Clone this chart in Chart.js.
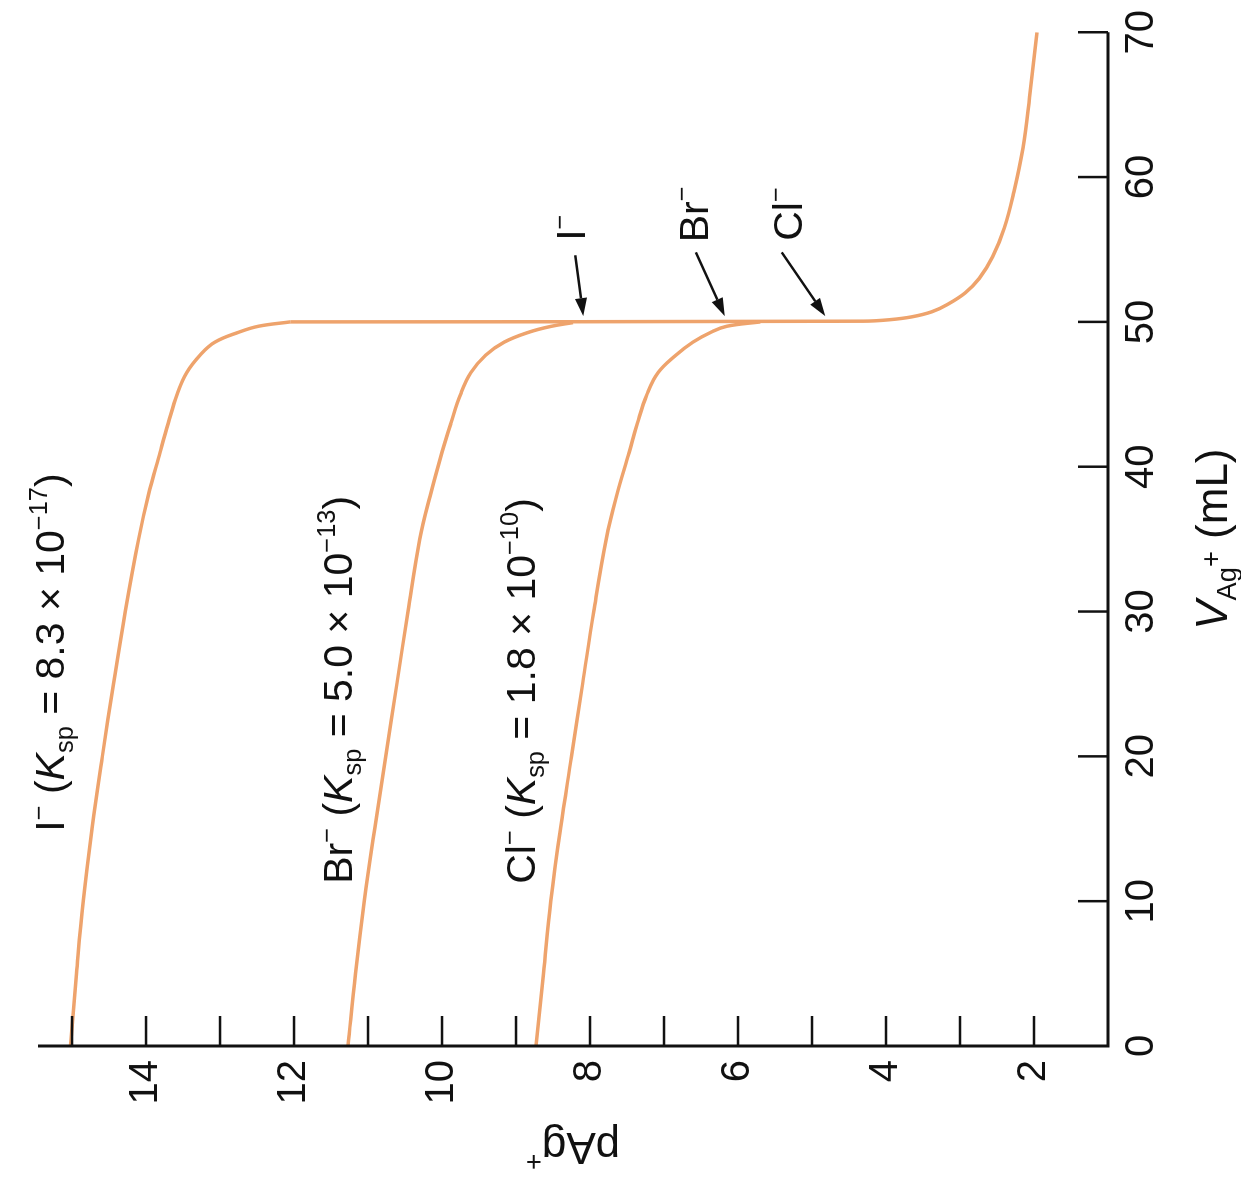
<!DOCTYPE html>
<html>
<head>
<meta charset="utf-8">
<title>Titration curves: pAg+ vs V Ag+</title>
<script src="https://cdn.jsdelivr.net/npm/chart.js"></script>
<style>
  html, body { margin: 0; padding: 0; background: #fff; overflow: hidden; }
  /* the figure is printed turned a quarter turn, so the chart is drawn upright and rotated */
  #wrap { position: absolute; left: 0; top: 0; width: 1194px; height: 1241px;
          transform-origin: 0 0; transform: translate(0, 1194px) rotate(-90deg); }
</style>
</head>
<body>
<div id="wrap"><canvas id="chart" width="1194" height="1241"></canvas></div>
<script>
// values: volume of Ag+ added (mL) and pAg+
var volI  = [0, 5, 10, 15, 20, 25, 30, 35, 38, 41, 43, 45, 46.5, 47.7, 48.6, 49.3, 49.7, 50.0];
var pAgI  = [15.02, 14.94, 14.85, 14.73, 14.59, 14.44, 14.28, 14.10, 13.97, 13.81, 13.70, 13.58, 13.45, 13.27, 13.07, 12.74, 12.48, 12.05];
var volBr = [0, 5, 10, 15, 20, 25, 30, 35, 38, 41, 43, 45, 46.5, 47.7, 48.6, 49.3, 49.7, 49.95];
var pAgBr = [11.27, 11.17, 11.05, 10.91, 10.76, 10.61, 10.46, 10.30, 10.16, 10.00, 9.88, 9.75, 9.61, 9.41, 9.16, 8.82, 8.52, 8.23];
var volCl = [0, 5, 10, 15, 20, 25, 30, 35, 38, 41, 43, 45, 46.5, 47.7, 48.6, 49.3, 49.7, 50.0];
var pAgCl = [8.73, 8.63, 8.53, 8.40, 8.25, 8.10, 7.95, 7.78, 7.64, 7.47, 7.36, 7.23, 7.08, 6.84, 6.61, 6.36, 6.15, 5.70];
// past the equivalence point all three curves share the excess Ag+ branch
var volAg = [50.0, 50.05, 50.15, 50.35, 50.7, 51.2, 52.0, 53.0, 54.5, 56.5, 59.0, 62.0, 65.5, 70.0];
var pAgAg = [12.05, 4.30, 3.95, 3.65, 3.38, 3.17, 2.93, 2.74, 2.56, 2.40, 2.27, 2.15, 2.06, 1.96];

var volTicks  = [0, 10, 20, 30, 40, 50, 60, 70];
var pAgTicks  = [2, 3, 4, 5, 6, 7, 8, 9, 10, 11, 12, 13, 14, 15];
var pAgLabels = [2, 4, 6, 8, 10, 12, 14];

var ions = ['I', 'Br', 'Cl'];
var kspText = ['8.3', '5.0', '1.8'];
var kspExp = ['−17', '−13', '−10'];

// annotation anchors in data units [V, pAg]
var curveLabelAt = [[14.8, 15.11], [11.2, 11.22], [11.2, 8.74]];
var ionLabelAt   = [[55.6, 8.07], [55.5, 6.41], [55.6, 5.14]];
var arrowTail    = [[54.6, 8.20], [54.8, 6.57], [54.8, 5.41]];
var arrowTip     = [[50.4, 8.09], [50.4, 6.18], [50.4, 4.82]];

var ORANGE = '#eea36c';
var INK = '#111111';
var FONT = '"Liberation Sans", Arial, Helvetica, sans-serif';

Chart.defaults.font.family = FONT;

function toPts(xs, ys) {
  return xs.map(function (v, i) { return { x: v, y: ys[i] }; });
}

function curve(label, xs, ys) {
  return {
    label: label,
    data: toPts(xs, ys),
    borderColor: ORANGE,
    borderWidth: 3.5,
    pointRadius: 0,
    fill: false,
    tension: 0.4
  };
}

function sup(t) { return { t: t, small: true, dy: -0.42 }; }
function sub(t) { return { t: t, small: true, dy: 0.22 }; }

// text with sub/superscripts, drawn piece by piece
function rich(ctx, parts, x, y, size, align) {
  var segs = parts.map(function (p) {
    var s = p.small ? size * 0.62 : size;
    var f = (p.it ? 'italic ' : '') + s + 'px ' + FONT;
    ctx.font = f;
    return { t: p.t, f: f, w: ctx.measureText(p.t).width, dy: (p.dy || 0) * size };
  });
  var total = segs.reduce(function (a, s) { return a + s.w; }, 0);
  var cx = align === 'center' ? x - total / 2 : x;
  ctx.textAlign = 'left';
  ctx.textBaseline = 'alphabetic';
  segs.forEach(function (s) {
    ctx.font = s.f;
    ctx.fillText(s.t, cx, y + s.dy);
    cx += s.w;
  });
}

function arrow(ctx, x1, y1, x2, y2) {
  var ang = Math.atan2(y2 - y1, x2 - x1), L = 18, W = 6;
  var bx = x2 - L * Math.cos(ang), by = y2 - L * Math.sin(ang);
  ctx.lineWidth = 2.5;
  ctx.beginPath();
  ctx.moveTo(x1, y1);
  ctx.lineTo(bx, by);
  ctx.stroke();
  ctx.beginPath();
  ctx.moveTo(x2, y2);
  ctx.lineTo(bx - W * Math.sin(ang), by + W * Math.cos(ang));
  ctx.lineTo(bx + W * Math.sin(ang), by - W * Math.cos(ang));
  ctx.closePath();
  ctx.fill();
}

var decor = {
  id: 'decor',
  afterDraw: function (chart) {
    var ctx = chart.ctx, a = chart.chartArea;
    var x = chart.scales.x, y = chart.scales.y;
    ctx.save();
    ctx.strokeStyle = INK;
    ctx.fillStyle = INK;

    // axis lines
    ctx.lineWidth = 3;
    ctx.lineJoin = 'miter';
    ctx.beginPath();
    ctx.moveTo(a.left, a.top);
    ctx.lineTo(a.left, a.bottom);
    ctx.lineTo(a.right, a.bottom);
    ctx.stroke();

    // inward tick marks
    ctx.lineWidth = 2.5;
    y.ticks.forEach(function (t) {
      var py = y.getPixelForValue(t.value);
      ctx.beginPath(); ctx.moveTo(a.left, py); ctx.lineTo(a.left + 30, py); ctx.stroke();
    });
    x.ticks.forEach(function (t) {
      if (t.value === 0) return;
      var px = x.getPixelForValue(t.value);
      ctx.beginPath(); ctx.moveTo(px, a.bottom); ctx.lineTo(px, a.bottom - 30); ctx.stroke();
    });

    // axis titles
    rich(ctx, [{ t: 'V', it: true }, { t: 'Ag', small: true, dy: 0.2 }, { t: '+', small: true, dy: -0.16 }, { t: ' (mL)' }],
      (a.left + a.right) / 2, a.bottom + 119, 44, 'center');
    ctx.save();
    ctx.translate(a.left - 87, (a.top + a.bottom) / 2);
    ctx.rotate(-Math.PI / 2);
    rich(ctx, [{ t: 'pAg' }, { t: '+', small: true, dy: -0.45 }], 0, 0, 44, 'center');
    ctx.restore();

    // curve labels
    ions.forEach(function (ion, i) {
      var px = x.getPixelForValue(curveLabelAt[i][0]);
      var py = y.getPixelForValue(curveLabelAt[i][1]);
      rich(ctx, [{ t: ion }, sup('−'), { t: ' (' }, { t: 'K', it: true }, sub('sp'),
        { t: ' = ' + kspText[i] + ' × 10' }, sup(kspExp[i]), { t: ')' }], px, py, 41);
    });

    // equivalence point labels and arrows
    ions.forEach(function (ion, i) {
      var px = x.getPixelForValue(ionLabelAt[i][0]);
      var py = y.getPixelForValue(ionLabelAt[i][1]);
      rich(ctx, [{ t: ion }, sup('−')], px, py, 41);
      arrow(ctx,
        x.getPixelForValue(arrowTail[i][0]), y.getPixelForValue(arrowTail[i][1]),
        x.getPixelForValue(arrowTip[i][0]), y.getPixelForValue(arrowTip[i][1]));
    });
    ctx.restore();
  }
};

var chart = new Chart(document.getElementById('chart').getContext('2d'), {
  type: 'line',
  data: {
    datasets: [
      curve('I−', volI, pAgI),
      curve('Br−', volBr, pAgBr),
      curve('Cl−', volCl, pAgCl),
      curve('excess Ag+', volAg, pAgAg)
    ]
  },
  options: {
    responsive: false,
    animation: false,
    devicePixelRatio: 1,
    layout: { padding: { top: 38, right: 26, bottom: 0, left: 0 } },
    plugins: { legend: { display: false }, tooltip: { enabled: false } },
    scales: {
      x: {
        type: 'linear', min: 0, max: 70,
        grid: { display: false, drawTicks: false },
        border: { display: false },
        ticks: { color: INK, font: { size: 40 }, padding: 10, maxRotation: 0, autoSkip: false },
        afterBuildTicks: function (s) { s.ticks = volTicks.map(function (v) { return { value: v }; }); },
        afterFit: function (s) { s.height = 133; }
      },
      y: {
        type: 'linear', min: 1, max: 15.46,
        grid: { display: false, drawTicks: false },
        border: { display: false },
        ticks: {
          color: INK, font: { size: 40 }, padding: 14, autoSkip: false,
          callback: function (v) { return pAgLabels.indexOf(v) >= 0 ? String(v) : ''; }
        },
        afterBuildTicks: function (s) { s.ticks = pAgTicks.map(function (v) { return { value: v }; }); },
        afterFit: function (s) { s.width = 148; }
      }
    }
  },
  plugins: [decor]
});
</script>
</body>
</html>
